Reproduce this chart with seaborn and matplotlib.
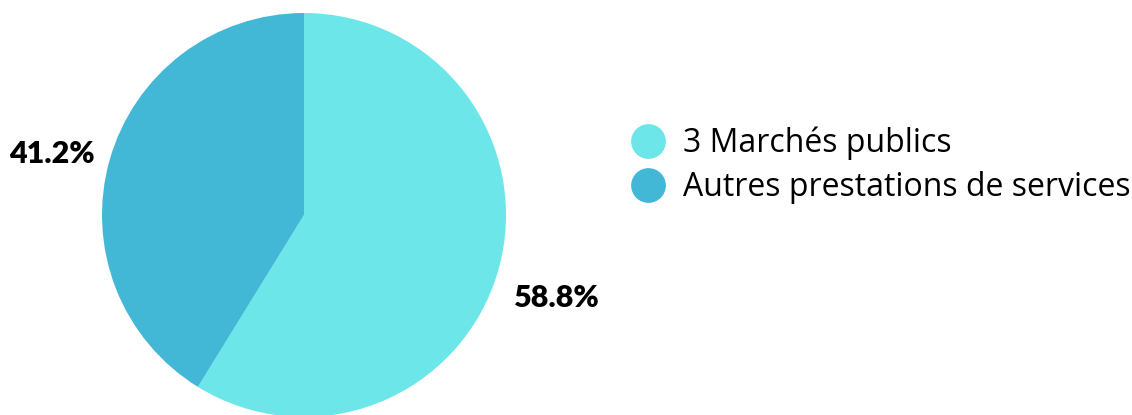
import matplotlib
matplotlib.use("Agg")
import matplotlib.pyplot as plt
from matplotlib.lines import Line2D
import seaborn as sns

labels = ["3 Marchés publics", "Autres prestations de services"]
values = [58.8, 41.2]
colors = ["#6ce6e8", "#43b8d6"]

sns.set_theme(style="white")
plt.rcParams["font.family"] = ["Open Sans", "DejaVu Sans"]

fig = plt.figure(figsize=[11.32, 4.15], dpi=100)
ax = fig.add_axes([0, 0, 1, 1])

wedges, _, autotexts = ax.pie(
    values,
    colors=colors,
    startangle=90,
    counterclock=False,
    center=(304, 200),
    radius=202,
    autopct="%1.1f%%",
    pctdistance=1.3,
    wedgeprops={"linewidth": 0},
    frame=True,
)
ax.set_xlim(0, 1132)
ax.set_ylim(0, 415)
ax.set_aspect("equal")
ax.axis("off")
for txt in autotexts:
    x, y = txt.get_position()
    txt.set_position((x, y - 11))
    txt.set_fontsize(22)
    txt.set_fontweight("heavy")
    txt.set_fontfamily(["Lato", "DejaVu Sans"])
    txt.set_color("black")

handles = [Line2D([], [], marker="o", linestyle="", markersize=24,
                  markerfacecolor=c, markeredgecolor=c) for c in colors]
leg = fig.legend(handles, labels, loc="center left", bbox_to_anchor=(0.558, 0.602),
                 frameon=False, fontsize=23, handletextpad=0.6, labelspacing=0.35,
                 handlelength=1.0, borderaxespad=0, borderpad=0)
for t in leg.get_texts():
    t.set_color("black")

fig.savefig("out.png", dpi=100)
